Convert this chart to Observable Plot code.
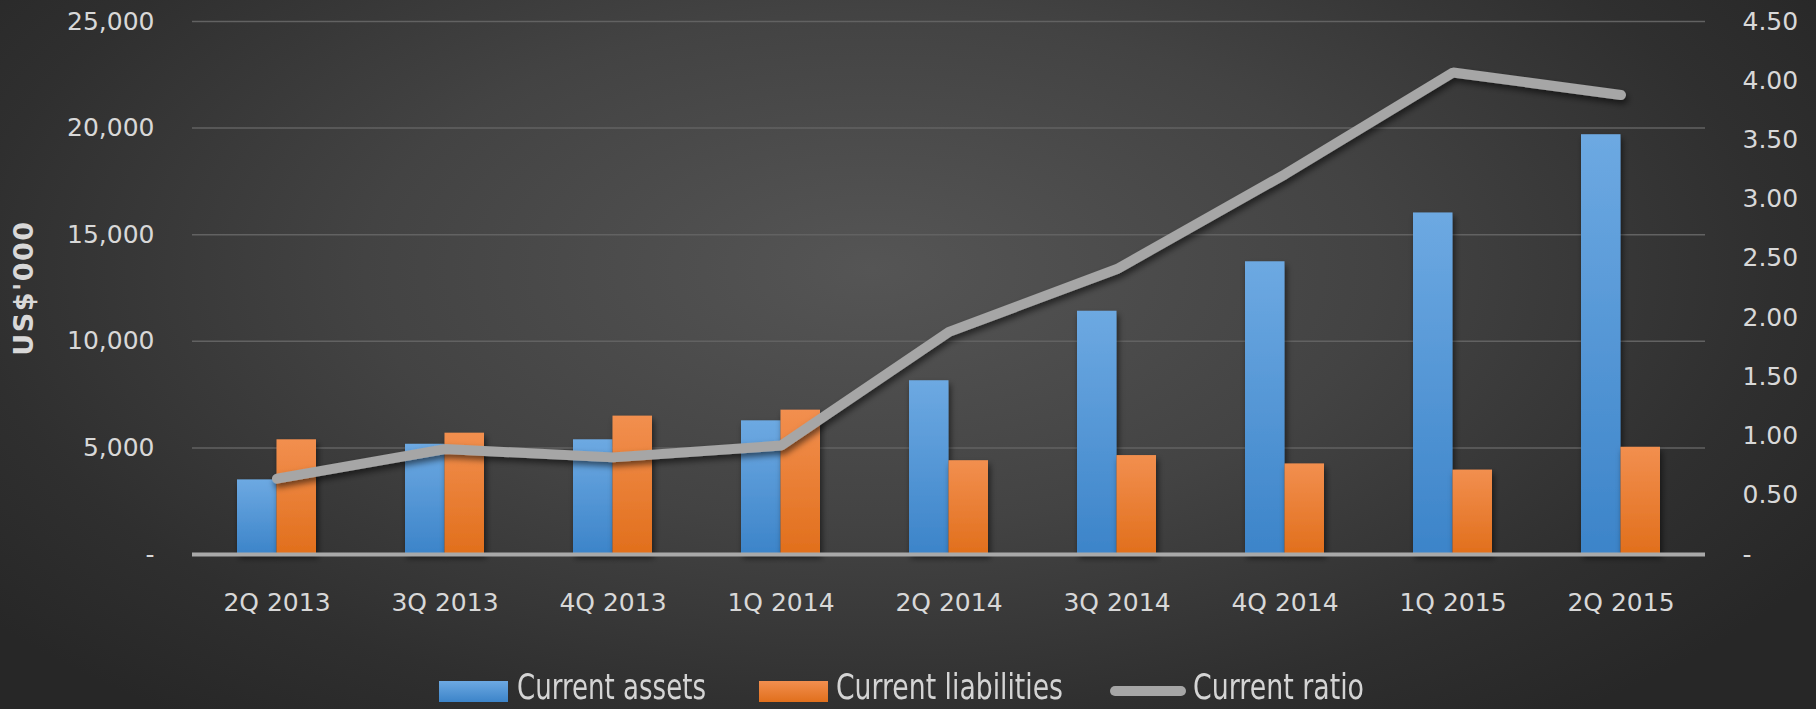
<!DOCTYPE html>
<html>
<head>
<meta charset="utf-8">
<script src="https://cdn.jsdelivr.net/npm/d3@7"></script>
<script src="https://cdn.jsdelivr.net/npm/@observablehq/plot@0.6"></script>
<style>
  html, body { margin: 0; padding: 0; }
  #wrap {
    width: 1816px; height: 709px; overflow: hidden; position: relative;
    background: radial-gradient(ellipse 62% 80% at 48% 38%, #555555 0%, #434343 45%, #2f2f2f 80%, #272727 100%);
    font-family: "DejaVu Sans", sans-serif;
  }
  #chart { position: absolute; left: 0; top: 0; }
  #chart svg { display: block; }
  #legend {
    position: absolute; left: 0; top: 645px; height: 64px; width: 1816px;
    font-family: "DejaVu Sans", sans-serif;
    font-size: 35px; color: #d4d4d4;
  }
  .sw { position: absolute; }
  .lbl { position: absolute; top: 25px; line-height: 34px; height: 34px; white-space: nowrap; transform-origin: 0 50%; }
  .ytitle { letter-spacing: 1.5px; }
</style>
</head>
<body>
<div id="wrap"><div id="chart"></div><div id="legend"></div></div>
<script>
// ---- data ----
const categories = ["2Q 2013","3Q 2013","4Q 2013","1Q 2014","2Q 2014","3Q 2014","4Q 2014","1Q 2015","2Q 2015"];
const currentAssets = [3500, 5170, 5380, 6270, 8150, 11410, 13730, 16020, 19690];
const currentLiabilities = [5380, 5690, 6490, 6770, 4400, 4640, 4250, 3960, 5030];
const currentRatio = [0.64, 0.89, 0.82, 0.92, 1.88, 2.41, 3.21, 4.07, 3.88];
const leftTicks = [0, 5000, 10000, 15000, 20000, 25000];
const rightTicks = [0, 0.5, 1, 1.5, 2, 2.5, 3, 3.5, 4, 4.5];
const seriesNames = ["Current assets", "Current liabilities", "Current ratio"];

const leftMax = 25000, rightMax = 4.5;
const k = leftMax / rightMax; // ratio axis mapped onto the left scale

const rows = categories.map((q, i) => ({
  q, assets: currentAssets[i], liabilities: currentLiabilities[i], ratio: currentRatio[i]
}));

const W = 1816, H = 645;
const mL = 192, mR = 111, mT = 21, mB = 91;
const pInner = 0.53, pOuter = 0.265;
const step = (W - mL - mR) / (categories.length - pInner + 2 * pOuter);
const halfBand = step * (1 - pInner) / 2;

const fmtL = d3.format(",");
const chart = Plot.plot({
  width: W, height: H,
  marginLeft: mL, marginRight: mR, marginTop: mT, marginBottom: mB,
  style: { background: "transparent", color: "#d8d8d8", fontFamily: "DejaVu Sans", overflow: "visible" },
  x: { type: "band", domain: categories, paddingInner: pInner, paddingOuter: pOuter },
  y: { domain: [0, leftMax] },
  marks: [
    Plot.gridY(leftTicks.slice(1), { stroke: "#626262", strokeOpacity: 1, strokeWidth: 1.5 }),
    Plot.axisY({ ticks: leftTicks, tickSize: 0, tickPadding: 38, fontSize: 25, label: null,
      tickFormat: d => d === 0 ? "-" : fmtL(d) }),
    Plot.axisY({ anchor: "right", ticks: rightTicks.map(r => r * k), tickSize: 0, tickPadding: 37, fontSize: 25, label: null,
      tickFormat: d => { const r = d / k; return Math.abs(r) < 1e-9 ? "-" : r.toFixed(2); } }),
    Plot.axisX({ tickSize: 0, tickPadding: 39, fontSize: 25, label: null }),
    Plot.barY(rows, { x: "q", y: "assets", fill: "url(#gBlue)", insetRight: halfBand }),
    Plot.barY(rows, { x: "q", y: "liabilities", fill: "url(#gOrange)", insetLeft: halfBand }),
    Plot.ruleY([0], { stroke: "#a9a9a9", strokeWidth: 4 }),
    Plot.lineY(rows, { x: "q", y: d => d.ratio * k, stroke: "#a6a6a6", strokeWidth: 10,
      strokeLinecap: "round", strokeLinejoin: "miter" }),
    Plot.text(["US$'000"], { frameAnchor: "left", textAnchor: "middle", rotate: -90, dx: -168,
      fontSize: 27, fontWeight: "bold", fill: "#d8d8d8" })
  ]
});

const svg = d3.select(chart);
svg.insert("defs", ":first-child").html(`
  <linearGradient id="gBlue" x1="0" y1="0" x2="0" y2="1">
    <stop offset="0" stop-color="#6da9e2"/><stop offset="1" stop-color="#3c84c9"/>
  </linearGradient>
  <linearGradient id="gOrange" x1="0" y1="0" x2="0" y2="1">
    <stop offset="0" stop-color="#f28f4f"/><stop offset="1" stop-color="#e16f1c"/>
  </linearGradient>
  <filter id="shadow" x="-10%" y="-30%" width="120%" height="160%">
    <feDropShadow dx="2" dy="4" stdDeviation="3" flood-color="#000" flood-opacity="0.55"/>
  </filter>`);
svg.selectAll('g[aria-label="line"] path').attr("filter", "url(#shadow)");
svg.selectAll('g[aria-label="bar"]').attr("filter", "url(#shadow)");
svg.selectAll('g[aria-label="text"] text').attr("class", "ytitle");
document.getElementById("chart").appendChild(chart);

// ---- legend ----
const legend = d3.select("#legend");
const items = [
  { name: seriesNames[0], x: 439, sw: { w: 69, h: 21, top: 36, bg: "linear-gradient(#6da9e2,#3c84c9)", r: 0 }, tx: 517, tw: 189 },
  { name: seriesNames[1], x: 759, sw: { w: 69, h: 21, top: 36, bg: "linear-gradient(#f28f4f,#e16f1c)", r: 0 }, tx: 836, tw: 227 },
  { name: seriesNames[2], x: 1110, sw: { w: 76, h: 10, top: 41, bg: "#a6a6a6", r: 5 }, tx: 1193, tw: 171 }
];
items.forEach(it => {
  legend.append("div").attr("class", "sw")
    .style("left", it.x + "px").style("top", it.sw.top + "px")
    .style("width", it.sw.w + "px").style("height", it.sw.h + "px")
    .style("background", it.sw.bg).style("border-radius", it.sw.r + "px");
  const lbl = legend.append("div").attr("class", "lbl").style("left", it.tx + "px").text(it.name);
  const w = lbl.node().getBoundingClientRect().width;
  lbl.style("transform", `scaleX(${it.tw / w})`);
});
</script>
</body>
</html>
